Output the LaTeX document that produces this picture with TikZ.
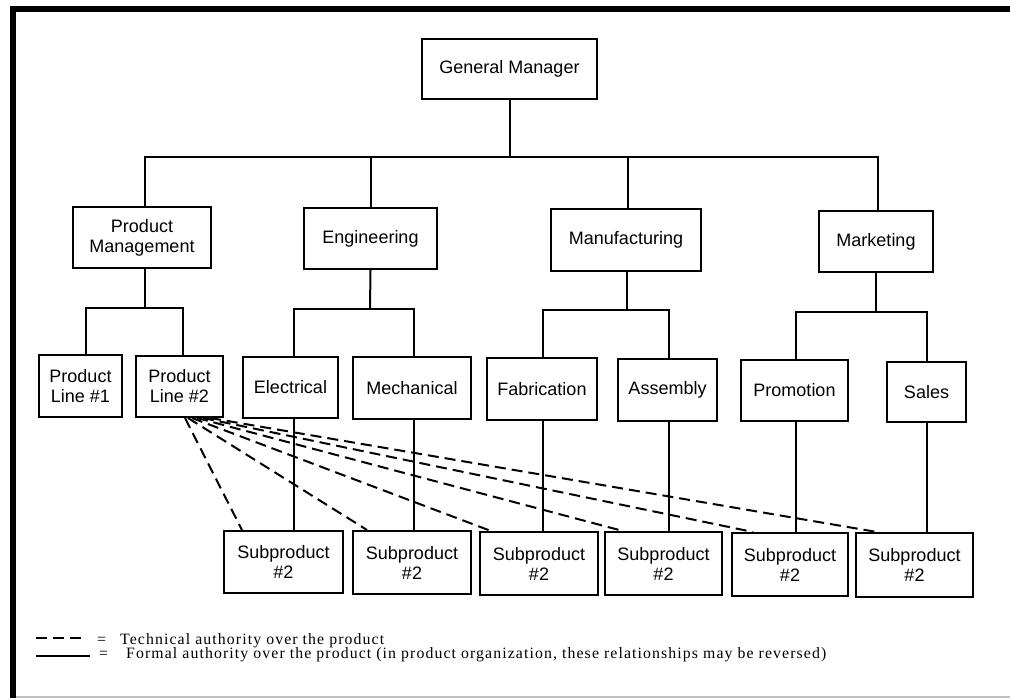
\documentclass[tikz,border=0pt]{standalone}
\usepackage{fontspec}
\newfontfamily\boxfont{Liberation Sans}
\newfontfamily\legendfont[LetterSpace=7]{Liberation Serif}
\begin{document}
\begin{tikzpicture}[x=1pt,y=-1pt,
  unit/.style={draw=black, line width=2pt, fill=white, align=center, inner sep=0pt,
    font=\boxfont\fontsize{18}{20}\selectfont},
  link/.style={line width=2pt},
  techlink/.style={line width=2pt, dash pattern=on 11pt off 6pt},
  legendtext/.style={anchor=base west, inner sep=0pt,
    font=\legendfont\fontsize{15.8}{18}\selectfont}]

\fill[white] (0,0) rectangle (1010,698);
\useasboundingbox (0,0) rectangle (1010,698);

% frame
\draw[line width=6pt, line join=miter] (13,698) -- (13,9) -- (1010,9);
\draw[black!25, line width=2pt] (16,697) -- (1010,697);

% top level
\node[unit, minimum width=175pt, minimum height=60pt] (gm) at (509.5,69) {General Manager};

% departments
\node[unit, minimum width=138pt, minimum height=61pt] (pm)  at (142,237.5) {Product\\Management};
\node[unit, minimum width=133pt, minimum height=61pt] (eng) at (370.5,238.5) {Engineering};
\node[unit, minimum width=150pt, minimum height=62pt] (mfg) at (626,240) {Manufacturing};
\node[unit, minimum width=114pt, minimum height=61pt] (mkt) at (876,241.5) {Marketing};

% sections
\node[unit, minimum width=83pt,  minimum height=62pt] (pl1)   at (80.5,386)  {Product\\Line \#1};
\node[unit, minimum width=87pt,  minimum height=61pt] (pl2)   at (179.5,386.5) {Product\\Line \#2};
\node[unit, minimum width=95pt,  minimum height=61pt] (elec)  at (290.5,387.5) {Electrical};
\node[unit, minimum width=118pt, minimum height=62pt] (mech)  at (412,388)  {Mechanical};
\node[unit, minimum width=110pt, minimum height=62pt] (fab)   at (542,389)  {Fabrication};
\node[unit, minimum width=99pt,  minimum height=62pt] (asm)   at (667.5,390) {Assembly};
\node[unit, minimum width=107pt, minimum height=61pt] (promo) at (794.5,390.5) {Promotion};
\node[unit, minimum width=79pt,  minimum height=60pt] (sales) at (926.5,392) {Sales};

% subproduct units
\node[unit, minimum width=119pt, minimum height=62pt] (sub1) at (283.5,562)   {Subproduct\\\#2};
\node[unit, minimum width=118pt, minimum height=63pt] (sub2) at (412,562.5)   {Subproduct\\\#2};
\node[unit, minimum width=118pt, minimum height=63pt] (sub3) at (539,563.5)   {Subproduct\\\#2};
\node[unit, minimum width=117pt, minimum height=63pt] (sub4) at (663.5,563.5) {Subproduct\\\#2};
\node[unit, minimum width=116pt, minimum height=63pt] (sub5) at (790,564.5)   {Subproduct\\\#2};
\node[unit, minimum width=117pt, minimum height=64pt] (sub6) at (914.5,565)   {Subproduct\\\#2};

% general manager to departments
\coordinate (busTop) at (509.5,157);
\draw[link] (gm.south) -- (busTop);
\draw[link] ([xshift=3pt]pm.north) |- (busTop);
\draw[link] (eng.north) |- (busTop);
\draw[link] ([xshift=1.5pt]mfg.north) |- (busTop);
\draw[link] ([xshift=2pt]mkt.north) |- (busTop);

% departments to sections
\coordinate (pmBus) at (145,308);
\draw[link] ([xshift=3pt]pm.south) -- (pmBus);
\draw[link] ([xshift=5.5pt]pl1.north) |- (pmBus);
\draw[link] ([xshift=3.5pt]pl2.north) |- (pmBus);

\coordinate (engBus) at (370,309);
\draw[link] (eng.south) -- (engBus);
\draw[link] ([xshift=3.5pt]elec.north) |- (engBus);
\draw[link] ([xshift=2pt]mech.north) |- (engBus);

\coordinate (mfgBus) at (627,310);
\draw[link] ([xshift=1pt]mfg.south) -- (mfgBus);
\draw[link] ([xshift=1pt]fab.north) |- (mfgBus);
\draw[link] ([xshift=1.5pt]asm.north) |- (mfgBus);

\coordinate (mktBus) at (876,312);
\draw[link] (mkt.south) -- (mktBus);
\draw[link] ([xshift=1.5pt]promo.north) |- (mktBus);
\draw[link] (sales.north) |- (mktBus);

% formal authority over the subproducts
\draw[link] ([xshift=3pt]elec.south) -- ([xshift=3pt]elec.south |- sub1.north);
\draw[link] ([xshift=1.5pt]mech.south) -- ([xshift=1.5pt]mech.south |- sub2.north);
\draw[link] ([xshift=0.5pt]fab.south) -- ([xshift=0.5pt]fab.south |- sub3.north);
\draw[link] ([xshift=1pt]asm.south) -- ([xshift=1pt]asm.south |- sub4.north);
\draw[link] ([xshift=1pt]promo.south) -- ([xshift=1pt]promo.south |- sub5.north);
\draw[link] (sales.south) -- (sales.south |- sub6.north);

% technical authority of product line #2
\draw[techlink] ([xshift=5.5pt]pl2.south)  -- ([xshift=-41.5pt]sub1.north);
\draw[techlink] ([xshift=8.5pt]pl2.south)  -- ([xshift=-45pt]sub2.north);
\draw[techlink] ([xshift=12.5pt]pl2.south) -- ([xshift=-48pt]sub3.north);
\draw[techlink] ([xshift=17.5pt]pl2.south) -- ([xshift=-40.5pt]sub4.north);
\draw[techlink] ([xshift=23.5pt]pl2.south) -- ([xshift=-37pt]sub5.north);
\draw[techlink] ([xshift=30.5pt]pl2.south) -- ([xshift=-37.5pt]sub6.north);

% key
\coordinate (dashA) at (36,638);
\coordinate (dashB) at (87,638);
\coordinate (solidA) at (36,656);
\coordinate (solidB) at (90,656);
\draw[line width=2pt, dash pattern=on 11pt off 6pt] (dashA) -- (dashB);
\draw[line width=1.6pt] (solidA) -- (solidB);
\node[legendtext] (eqA) at (97,644) {=};
\node[legendtext] (keyTech) at (120,644) {Technical authority over the product};
\node[legendtext] (eqB) at (99,658) {=};
\node[legendtext] (keyFormal) at (126,658) {Formal authority over the product (in product organization, these relationships may be reversed)};
\end{tikzpicture}
\end{document}
